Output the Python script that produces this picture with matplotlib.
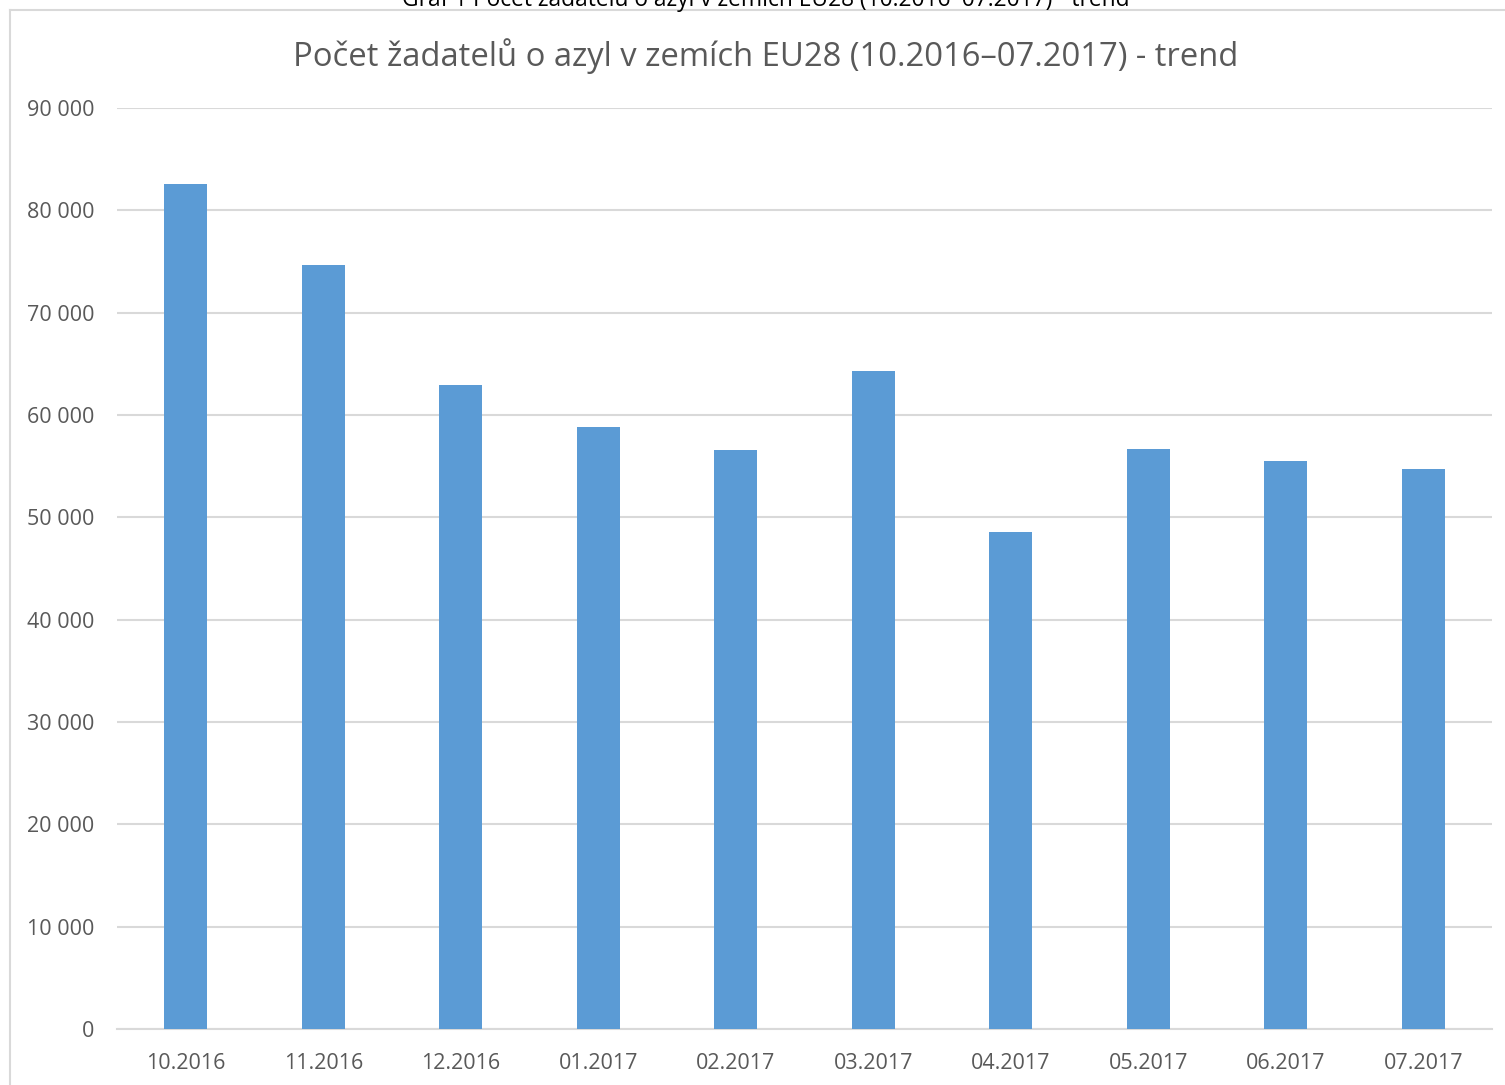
import matplotlib
matplotlib.use("Agg")
import matplotlib.pyplot as plt
from matplotlib.ticker import FuncFormatter
from matplotlib.lines import Line2D

# data
months = ["10.2016", "11.2016", "12.2016", "01.2017", "02.2017",
          "03.2017", "04.2017", "05.2017", "06.2017", "07.2017"]
applicants = [82600, 74700, 62900, 58800, 56600, 64300, 48600, 56700, 55500, 54700]

plt.rcParams['font.family'] = ['Open Sans', 'DejaVu Sans']

fig = plt.figure(figsize=(15.05, 10.85), dpi=100)
ax = fig.add_axes([0.0777, 0.0516, 0.9137, 0.8489])

x = range(len(months))
ax.bar(x, applicants, width=0.31, color="#5B9BD5", zorder=3)

ax.set_xlim(-0.5, len(months) - 0.5)
ax.set_ylim(0, 90000)
ax.set_yticks(range(0, 90001, 10000))
ax.yaxis.set_major_formatter(FuncFormatter(lambda v, p: f"{int(v):,}".replace(",", " ")))
ax.set_xticks(list(x))
ax.set_xticklabels(months)

ax.grid(axis="y", color="#D9D9D9", linewidth=1.5, zorder=0)
for s in ["top", "right", "left"]:
    ax.spines[s].set_visible(False)
ax.spines["bottom"].set_color("#D9D9D9")
ax.spines["bottom"].set_linewidth(1.5)
ax.tick_params(length=0, labelsize=15.5, labelcolor="#595959")
ax.tick_params(axis="y", pad=16)
ax.tick_params(axis="x", pad=17)

# chart title
fig.text(0.509, 0.948, "Počet žadatelů o azyl v zemích EU28 (10.2016–07.2017) - trend",
         ha="center", va="center", fontsize=23.6, color="#595959")

# caption cut off at top edge
fig.text(0.509, 1.0, "Graf 1 Počet žadatelů o azyl v zemích EU28 (10.2016–07.2017) - trend",
         ha="center", va="center", fontsize=16.4, color="black")

# chart frame
fig.add_artist(Line2D([0.0066, 0.0066], [0, 0.9908], transform=fig.transFigure,
                      color="#D9D9D9", linewidth=1.5))
fig.add_artist(Line2D([0.0066, 1.0], [0.9908, 0.9908], transform=fig.transFigure,
                      color="#D9D9D9", linewidth=1.5))

fig.savefig("out.png", dpi=100)
